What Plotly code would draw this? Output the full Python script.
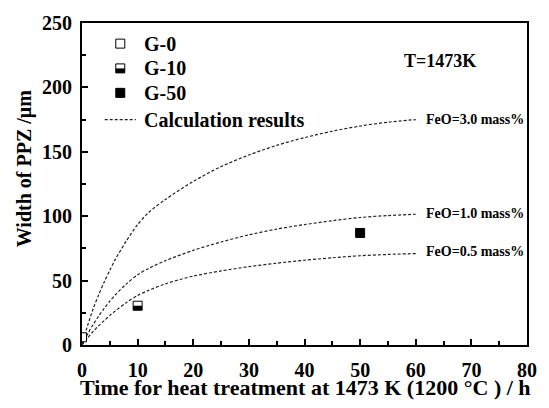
import plotly.graph_objects as go

# ---------------- data ----------------
time_h = [0, 1, 2, 3, 4, 5, 6, 8, 10, 12, 15, 20, 25, 30, 35, 40, 45, 50, 55, 60]
feo_30 = [0, 15, 28, 39, 49, 58, 66.5, 81, 93.5, 103, 113, 127, 138.5, 147.5, 155, 161, 166, 170, 173, 175]
feo_10 = [0, 8.5, 16, 22.5, 28.5, 34, 39, 47.5, 54.5, 59.5, 65.5, 73.5, 80, 85.5, 90, 93.5, 96.5, 99, 100.5, 101.5]
feo_05 = [0, 5.5, 10.5, 15, 19, 23, 26.5, 33, 38.5, 42.5, 47.5, 53.5, 57.5, 60.8, 63.5, 65.8, 67.7, 69.3, 70.3, 71]

curve_labels = ["FeO=3.0 mass%", "FeO=1.0 mass%", "FeO=0.5 mass%"]
label_values = [174.7, 102.1, 72.8]
label_time = 61.4

g0_t, g0_w = [0], [6]
g10_t, g10_w = [10], [30.5]
g50_t, g50_w = [50], [87]

legend_names = ["G-0", "G-10", "G-50", "Calculation results"]

FONT = "Liberation Serif"
BLACK = "black"
DASH = "3px,2px"

fig = go.Figure()

# calculation curves
for vals in (feo_30, feo_10, feo_05):
    fig.add_trace(go.Scatter(x=time_h, y=vals, mode="lines",
                             line=dict(color="#222", width=1.2, dash=DASH, shape="spline", smoothing=0.8),
                             showlegend=False, hoverinfo="skip"))

sq = 9
bar = dict(symbol="line-ew", size=sq / 2 / 0.7, line=dict(width=sq / 2, color=BLACK), angle=0, standoff=sq / 4)
open_sq = dict(symbol="square", size=sq, color="white", line=dict(color=BLACK, width=1))
full_sq = dict(symbol="square", size=sq, color=BLACK, line=dict(color=BLACK, width=1))

# measured points
fig.add_trace(go.Scatter(x=g0_t, y=g0_w, mode="markers", marker=open_sq, showlegend=False))
fig.add_trace(go.Scatter(x=g10_t, y=g10_w, mode="markers", marker=open_sq, showlegend=False))
fig.add_trace(go.Scatter(x=g10_t, y=g10_w, mode="markers", marker=bar, showlegend=False))
fig.add_trace(go.Scatter(x=g50_t, y=g50_w, mode="markers", marker=full_sq, showlegend=False))

# ---------------- manual legend (overlay axes in 0..1) ----------------
leg_x = 0.086
leg_rows = [0.936, 0.859, 0.783, 0.700]
leg_text_x = 0.135
common = dict(xaxis="x2", yaxis="y2", showlegend=False, cliponaxis=False, hoverinfo="skip")
fig.add_trace(go.Scatter(x=[leg_x], y=[leg_rows[0]], mode="markers", marker=open_sq, **common))
fig.add_trace(go.Scatter(x=[leg_x], y=[leg_rows[1]], mode="markers", marker=open_sq, **common))
fig.add_trace(go.Scatter(x=[leg_x], y=[leg_rows[1]], mode="markers", marker=bar, **common))
fig.add_trace(go.Scatter(x=[leg_x], y=[leg_rows[2]], mode="markers", marker=full_sq, **common))
fig.add_trace(go.Scatter(x=[0.051, 0.121], y=[leg_rows[3], leg_rows[3]], mode="lines",
                         line=dict(color="#222", width=1.2, dash=DASH), **common))

annotations = []
for name, yy in zip(legend_names, leg_rows):
    annotations.append(dict(x=leg_text_x, y=yy, xref="paper", yref="paper", text=name, showarrow=False,
                            xanchor="left", yanchor="middle", font=dict(family=FONT, size=20, color=BLACK, weight="bold")))

for txt, yy in zip(curve_labels, label_values):
    annotations.append(dict(x=label_time, y=yy, xref="x", yref="y", text=txt, showarrow=False,
                            xanchor="left", yanchor="middle", font=dict(family=FONT, size=14, color=BLACK, weight="bold")))

annotations.append(dict(x=(446 - 82) / 453, y=(345 - 57) / 327, xref="paper", yref="paper", text="T=1473K", showarrow=False,
                        xanchor="center", yanchor="middle", font=dict(family=FONT, size=18, color=BLACK, weight="bold")))

annotations.append(dict(x=(310 - 82) / 453, y=(345 - 388) / 327, xref="paper", yref="paper",
                        text="Time for heat treatment at 1473 K (1200 °C ) / h", showarrow=False,
                        xanchor="center", yanchor="middle", font=dict(family=FONT, size=22, color=BLACK, weight="bold")))
annotations.append(dict(x=(23.5 - 82) / 453, y=(345 - 166) / 327, xref="paper", yref="paper",
                        text="Width of PPZ /μm", showarrow=False, textangle=-90,
                        xanchor="center", yanchor="middle", font=dict(family=FONT, size=20, color=BLACK, weight="bold")))

tickfont = dict(family=FONT, size=20, color=BLACK, weight="bold")
axis_common = dict(showgrid=False, zeroline=False, showline=True, linecolor=BLACK, linewidth=2, mirror=True,
                   ticks="inside", ticklen=6, tickwidth=1.5, tickcolor=BLACK, tickfont=tickfont)

fig.update_layout(
    width=549, height=408,
    margin=dict(l=82, r=14, t=18, b=63),
    paper_bgcolor="white", plot_bgcolor="white",
    font=dict(family=FONT, color=BLACK),
    showlegend=False,
    annotations=annotations,
    xaxis=dict(range=[0, 80], tick0=0, dtick=10, ticklabelstandoff=6,
               minor=dict(dtick=5, tick0=0, ticks="inside", ticklen=4, tickwidth=1.5, tickcolor=BLACK), **axis_common),
    yaxis=dict(range=[0, 250], tick0=0, dtick=50, ticklabelstandoff=4,
               minor=dict(dtick=25, tick0=0, ticks="inside", ticklen=4, tickwidth=1.5, tickcolor=BLACK), **axis_common),
    xaxis2=dict(range=[0, 1], overlaying="x", visible=False, fixedrange=True),
    yaxis2=dict(range=[0, 1], overlaying="y", visible=False, fixedrange=True),
)

fig.write_html("out.html")
